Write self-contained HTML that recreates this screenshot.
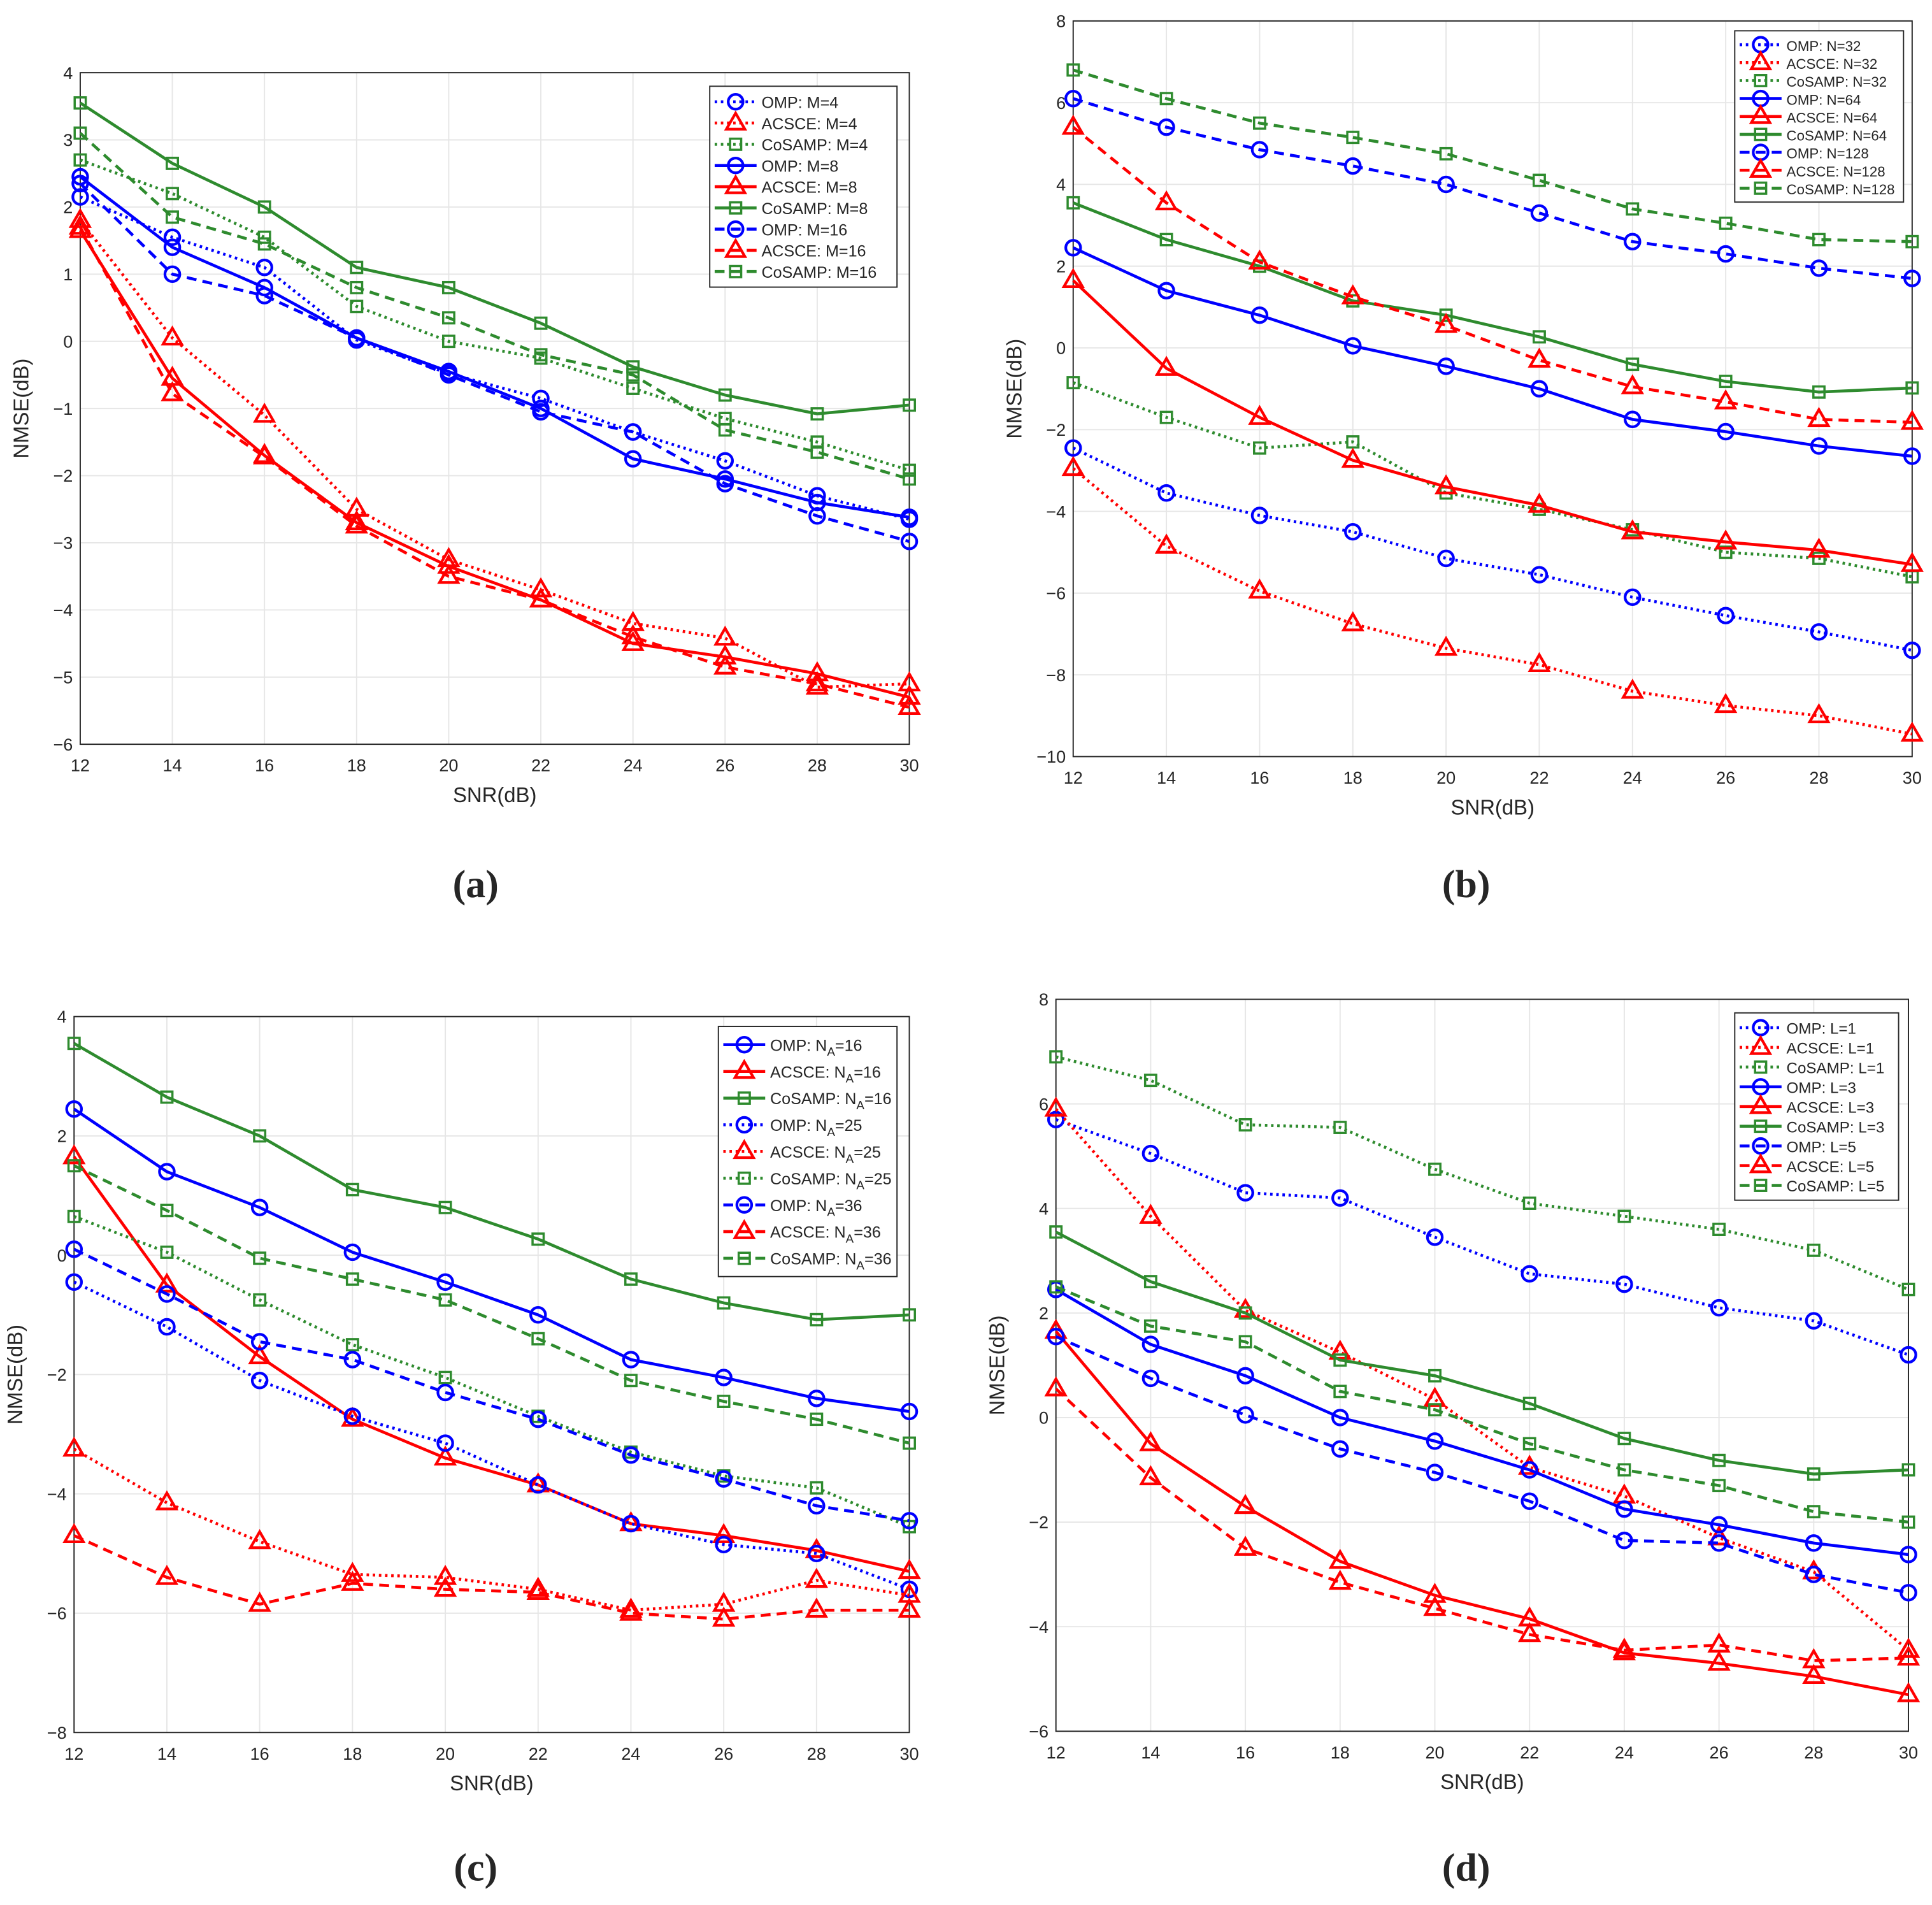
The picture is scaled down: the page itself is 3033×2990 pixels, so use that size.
<!DOCTYPE html>
<html><head><meta charset="utf-8"><style>
html,body{margin:0;padding:0;background:#fff}
svg{display:block}
text{font-family:"Liberation Sans",sans-serif;fill:#262626}
</style></head><body>
<svg id="fig" width="3033" height="2990" viewBox="0 0 1568 1546" xmlns="http://www.w3.org/2000/svg"></svg>
<script>
const xCats=[12,14,16,18,20,22,24,26,28,30];
// Panel (a)
const aOMP4=[2.15,1.55,1.1,0.02,-0.48,-0.85,-1.35,-1.78,-2.3,-2.65];
const aACS4=[1.8,0.05,-1.1,-2.5,-3.25,-3.7,-4.2,-4.42,-5.15,-5.1];
const aCOS4=[2.7,2.2,1.55,0.52,0.0,-0.25,-0.7,-1.15,-1.5,-1.92];
const aOMP8=[2.45,1.4,0.8,0.05,-0.45,-1.0,-1.75,-2.05,-2.4,-2.62];
const aACS8=[1.65,-0.55,-1.7,-2.7,-3.35,-3.85,-4.5,-4.7,-4.95,-5.3];
const aCOS8=[3.55,2.65,2.0,1.1,0.8,0.27,-0.38,-0.8,-1.08,-0.95];
const aOMP16=[2.35,1.0,0.68,0.05,-0.5,-1.05,-1.35,-2.12,-2.6,-2.98];
const aACS16=[1.7,-0.78,-1.72,-2.75,-3.5,-3.85,-4.4,-4.85,-5.1,-5.45];
const aCOS16=[3.1,1.85,1.45,0.8,0.35,-0.2,-0.5,-1.32,-1.65,-2.05];
// Panel (b)
const bOMP32=[-2.45,-3.55,-4.1,-4.5,-5.15,-5.55,-6.1,-6.55,-6.95,-7.4];
const bACS32=[-2.95,-4.85,-5.95,-6.75,-7.35,-7.75,-8.4,-8.75,-9.0,-9.45];
const bCOS32=[-0.85,-1.7,-2.45,-2.3,-3.55,-3.95,-4.45,-5.0,-5.15,-5.6];
const bOMP64=[2.45,1.4,0.8,0.05,-0.45,-1.0,-1.75,-2.05,-2.4,-2.65];
const bACS64=[1.65,-0.5,-1.7,-2.75,-3.4,-3.85,-4.5,-4.75,-4.95,-5.3];
const bCOS64=[3.55,2.65,2.0,1.15,0.8,0.27,-0.4,-0.82,-1.08,-0.98];
const bOMP128=[6.1,5.4,4.85,4.45,4.0,3.3,2.6,2.3,1.95,1.7];
const bACS128=[5.4,3.55,2.1,1.25,0.55,-0.3,-0.95,-1.32,-1.75,-1.82];
const bCOS128=[6.8,6.1,5.5,5.15,4.75,4.1,3.4,3.05,2.65,2.6];
// Panel (c)
const cOMP16=[2.45,1.4,0.8,0.05,-0.45,-1.0,-1.75,-2.05,-2.4,-2.62];
const cACS16=[1.65,-0.5,-1.7,-2.75,-3.4,-3.85,-4.5,-4.7,-4.95,-5.3];
const cCOS16=[3.55,2.65,2.0,1.1,0.8,0.27,-0.4,-0.8,-1.08,-1.0];
const cOMP25=[-0.45,-1.2,-2.1,-2.7,-3.15,-3.85,-4.5,-4.85,-5.0,-5.6];
const cACS25=[-3.25,-4.15,-4.8,-5.35,-5.4,-5.6,-5.95,-5.85,-5.45,-5.7];
const cCOS25=[0.65,0.05,-0.75,-1.5,-2.05,-2.7,-3.3,-3.7,-3.9,-4.55];
const cOMP36=[0.1,-0.65,-1.45,-1.75,-2.3,-2.75,-3.35,-3.75,-4.2,-4.45];
const cACS36=[-4.7,-5.4,-5.85,-5.5,-5.6,-5.65,-6.0,-6.1,-5.95,-5.95];
const cCOS36=[1.5,0.75,-0.05,-0.4,-0.75,-1.4,-2.1,-2.45,-2.75,-3.15];
// Panel (d)
const dOMP1=[5.7,5.05,4.3,4.2,3.45,2.75,2.55,2.1,1.85,1.2];
const dACS1=[5.9,3.85,2.05,1.25,0.35,-0.95,-1.5,-2.3,-2.95,-4.45];
const dCOS1=[6.9,6.45,5.6,5.55,4.75,4.1,3.85,3.6,3.2,2.45];
const dOMP3=[2.45,1.4,0.8,0.0,-0.45,-1.0,-1.75,-2.05,-2.4,-2.62];
const dACS3=[1.65,-0.5,-1.7,-2.75,-3.4,-3.85,-4.5,-4.7,-4.95,-5.3];
const dCOS3=[3.55,2.6,2.0,1.1,0.8,0.27,-0.4,-0.82,-1.08,-1.0];
const dOMP5=[1.55,0.75,0.05,-0.6,-1.05,-1.6,-2.35,-2.4,-3.0,-3.35];
const dACS5=[0.55,-1.15,-2.5,-3.15,-3.65,-4.15,-4.45,-4.35,-4.65,-4.6];
const dCOS5=[2.5,1.75,1.45,0.5,0.15,-0.5,-1.0,-1.3,-1.8,-2.0];
const yTicksA=[4,3,2,1,0,-1,-2,-3,-4,-5,-6];
const yTicksB=[8,6,4,2,0,-2,-4,-6,-8,-10];
const yTicksC=[4,2,0,-2,-4,-6,-8];
const yTicksD=[8,6,4,2,0,-2,-4,-6];

const NS="http://www.w3.org/2000/svg";
const svg=document.getElementById('fig');
function mk(tag,attrs,parent){const e=document.createElementNS(NS,tag);for(const k in attrs)e.setAttribute(k,attrs[k]);(parent||svg).appendChild(e);return e;}
const COL={b:'#0000ff',r:'#ff0000',g:'#2e8b2e'};
const DASH={solid:'',dot:'2,3',dash:'8,5'};
function marker(g,type,col,x,y){
  let m;
  if(type==='o'){m=mk('circle',{cx:x,cy:y,r:6,fill:'none',stroke:col,'stroke-width':2.2},g);}
  else if(type==='^'){m=mk('polygon',{points:`${x},${y-8} ${x-7.5},${y+5} ${x+7.5},${y+5}`,fill:'none',stroke:col,'stroke-width':2.2},g);}
  else {m=mk('rect',{x:x-4.5,y:y-4.5,width:9,height:9,fill:'none',stroke:col,'stroke-width':1.8},g);}
  
  
}
function panel(id,cfg){
  const g=mk('g',{});
  
  
  const {L,R,T,B,ymin,ymax,yticks}=cfg;
  const xs=v=>L+(v-12)/(30-12)*(R-L);
  const ys=v=>T+(ymax-v)/(ymax-ymin)*(B-T);
  mk('rect',{x:L,y:T,width:R-L,height:B-T,fill:'#fff',stroke:'none'},g);
  xCats.forEach(v=>{const l=mk('line',{x1:xs(v),x2:xs(v),y1:T,y2:B,stroke:'#e6e6e6','stroke-width':1},g);
    
    const t=mk('text',{x:xs(v),y:B+22,'font-size':14,'text-anchor':'middle'},g);t.textContent=v;
    });
  yticks.forEach(v=>{const l=mk('line',{x1:L,x2:R,y1:ys(v),y2:ys(v),stroke:'#e6e6e6','stroke-width':1},g);
    
    const t=mk('text',{x:L-6,y:ys(v)+5,'font-size':14,'text-anchor':'end'},g);t.textContent=(v<0?'\u2212'+(-v):v);
    });
  mk('rect',{x:L,y:T,width:R-L,height:B-T,fill:'none',stroke:'#262626','stroke-width':1},g);
  const xl=mk('text',{x:(L+R)/2,y:B+47,'font-size':17,'text-anchor':'middle'},g);xl.textContent='SNR(dB)';
  
  const yx=L-42, yy=(T+B)/2;
  const yl=mk('text',{x:yx,y:yy,'font-size':17,'text-anchor':'middle',transform:`rotate(-90 ${yx} ${yy})`},g);yl.textContent='NMSE(dB)';
  
  cfg.series.forEach(s=>{
    const pts=s.d.map((v,i)=>xs(xCats[i])+','+ys(v)).join(' ');
    const p=mk('polyline',{points:pts,fill:'none',stroke:COL[s.c],'stroke-width':2.4,'stroke-dasharray':DASH[s.ls]},g);
    
    s.d.forEach((v,i)=>marker(g,s.m,COL[s.c],xs(xCats[i]),ys(v)));
  });
  const lg=cfg.legend;
  const lgG=mk('g',{},g);
  
  const n=cfg.series.length;
  mk('rect',{x:lg.x,y:lg.y,width:lg.w,height:lg.h,fill:'#fff',stroke:'#262626','stroke-width':1},lgG);
  const rh=(lg.h-8)/n;
  cfg.series.forEach((s,i)=>{
    const cy=lg.y+4+rh*(i+0.5);
    mk('line',{x1:lg.x+4,x2:lg.x+38,y1:cy,y2:cy,stroke:COL[s.c],'stroke-width':2.4,'stroke-dasharray':DASH[s.ls]},lgG);
    marker(lgG,s.m,COL[s.c],lg.x+21,cy);
    const t=mk('text',{x:lg.x+42,y:cy+5,'font-size':lg.fs},lgG);
    
    if(s.sub){t.textContent=s.label;const ts=mk('tspan',{'font-size':lg.fs*0.75,dy:4},t);ts.textContent='A';const t2=mk('tspan',{dy:-4},t);t2.textContent=s.after;}
    else t.textContent=s.label;
  });
  const pl=mk('text',{x:cfg.lx,y:cfg.ly,'font-size':32,'font-weight':'bold','text-anchor':'middle','font-family':'"Liberation Serif", serif'},g);
  pl.textContent=cfg.letter;
  pl.style.fontFamily='"Liberation Serif",serif';
  pl.style.fontWeight='bold';
}
function S(d,c,m,ls,label){return {d,c,m,ls,label};}
function SS(d,c,m,ls,label,after){return {d,c,m,ls,label,after,sub:true};}
panel('a',{L:65,R:738,T:59,B:604,ymin:-6,ymax:4,yticks:yTicksA,letter:'(a)',lx:386,ly:728,
 legend:{x:576,y:70,w:152,h:163,fs:13},
 series:[S(aOMP4,'b','o','dot','OMP: M=4'),S(aACS4,'r','^','dot','ACSCE: M=4'),S(aCOS4,'g','s','dot','CoSAMP: M=4'),
 S(aOMP8,'b','o','solid','OMP: M=8'),S(aACS8,'r','^','solid','ACSCE: M=8'),S(aCOS8,'g','s','solid','CoSAMP: M=8'),
 S(aOMP16,'b','o','dash','OMP: M=16'),S(aACS16,'r','^','dash','ACSCE: M=16'),S(aCOS16,'g','s','dash','CoSAMP: M=16')]});
panel('b',{L:871,R:1552,T:17,B:614,ymin:-10,ymax:8,yticks:yTicksB,letter:'(b)',lx:1190,ly:728,
 legend:{x:1408,y:25,w:137,h:139,fs:11.5},
 series:[S(bOMP32,'b','o','dot','OMP: N=32'),S(bACS32,'r','^','dot','ACSCE: N=32'),S(bCOS32,'g','s','dot','CoSAMP: N=32'),
 S(bOMP64,'b','o','solid','OMP: N=64'),S(bACS64,'r','^','solid','ACSCE: N=64'),S(bCOS64,'g','s','solid','CoSAMP: N=64'),
 S(bOMP128,'b','o','dash','OMP: N=128'),S(bACS128,'r','^','dash','ACSCE: N=128'),S(bCOS128,'g','s','dash','CoSAMP: N=128')]});
panel('c',{L:60,R:738,T:825,B:1406,ymin:-8,ymax:4,yticks:yTicksC,letter:'(c)',lx:386,ly:1526,
 legend:{x:583,y:833,w:145,h:203,fs:13},
 series:[SS(cOMP16,'b','o','solid','OMP: N','=16'),SS(cACS16,'r','^','solid','ACSCE: N','=16'),SS(cCOS16,'g','s','solid','CoSAMP: N','=16'),
 SS(cOMP25,'b','o','dot','OMP: N','=25'),SS(cACS25,'r','^','dot','ACSCE: N','=25'),SS(cCOS25,'g','s','dot','CoSAMP: N','=25'),
 SS(cOMP36,'b','o','dash','OMP: N','=36'),SS(cACS36,'r','^','dash','ACSCE: N','=36'),SS(cCOS36,'g','s','dash','CoSAMP: N','=36')]});
panel('d',{L:857,R:1549,T:811,B:1405,ymin:-6,ymax:8,yticks:yTicksD,letter:'(d)',lx:1190,ly:1526,
 legend:{x:1408,y:822,w:133,h:152,fs:12.5},
 series:[S(dOMP1,'b','o','dot','OMP: L=1'),S(dACS1,'r','^','dot','ACSCE: L=1'),S(dCOS1,'g','s','dot','CoSAMP: L=1'),
 S(dOMP3,'b','o','solid','OMP: L=3'),S(dACS3,'r','^','solid','ACSCE: L=3'),S(dCOS3,'g','s','solid','CoSAMP: L=3'),
 S(dOMP5,'b','o','dash','OMP: L=5'),S(dACS5,'r','^','dash','ACSCE: L=5'),S(dCOS5,'g','s','dash','CoSAMP: L=5')]});
</script>
</body></html>
